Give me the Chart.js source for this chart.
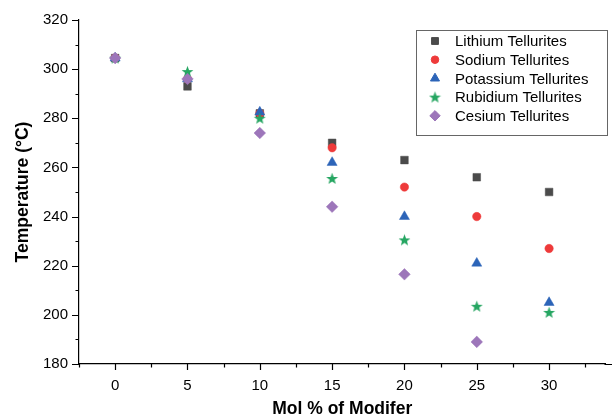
<!DOCTYPE html>
<html>
<head>
<meta charset="utf-8">
<script src="https://cdn.jsdelivr.net/npm/chart.js@4/dist/chart.umd.min.js"></script>
<style>
  html, body { margin: 0; padding: 0; background: #fff; }
  canvas { display: block; }
</style>
</head>
<body>
<canvas id="chart" width="612" height="418"></canvas>
<script>
const xValues = [0, 5, 10, 15, 20, 25, 30];
const lithium = [304.5, 293, 282, 270, 263, 256, 250];
const sodium = [304.5, 296, 282, 268, 252, 240, 227];
const potassium = [304.5, 296, 282.5, 262, 240, 221, 205];
const rubidium = [304.5, 299, 280, 255.5, 230.5, 203.5, 201];
const cesium = [304.5, 296, 274, 244, 216.5, 189, null];

const xMajor = [0, 5, 10, 15, 20, 25, 30];
const xMinor = [-2.5, 2.5, 7.5, 12.5, 17.5, 22.5, 27.5, 32.5];
const yMajor = [180, 200, 220, 240, 260, 280, 300, 320];
const yMinor = [190, 210, 230, 250, 270, 290, 310];

const FONT = "'Liberation Sans', Arial, sans-serif";

// filled star marker (Chart.js 'star' is outline only)
const makeStar = (color) => {
  const c = document.createElement("canvas");
  c.width = 13;
  c.height = 13;
  const ctx = c.getContext("2d");
  ctx.fillStyle = color;
  ctx.beginPath();
  for (let i = 0; i < 10; i++) {
    const r = i % 2 === 0 ? 6.2 : 2.6;
    const a = -Math.PI / 2 + (i * Math.PI) / 5;
    const px = 6.5 + r * Math.cos(a);
    const py = 7 + r * Math.sin(a);
    if (i === 0) ctx.moveTo(px, py);
    else ctx.lineTo(px, py);
  }
  ctx.closePath();
  ctx.fill();
  return c;
};

const toPoints = (arr) =>
  xValues.map((x, i) => ({ x: x, y: arr[i] })).filter((p) => p.y !== null);

const series = [
  { label: "Lithium Tellurites", values: lithium, color: "#4b4b4b", style: "rect", radius: 5.4, order: 5 },
  { label: "Sodium Tellurites", values: sodium, color: "#ee3a3a", style: "circle", radius: 4.2, order: 4 },
  { label: "Potassium Tellurites", values: potassium, color: "#2c64b8", style: "triangle", radius: 5.8, order: 3 },
  { label: "Rubidium Tellurites", values: rubidium, color: "#26a662", style: "star", radius: 6, order: 2 },
  { label: "Cesium Tellurites", values: cesium, color: "#9d76ba", style: "rectRot", radius: 5.8, order: 1 },
];

const datasets = series.map((s) => ({
  label: s.label,
  data: toPoints(s.values),
  order: s.order,
  pointStyle: s.style === "star" ? makeStar(s.color) : s.style,
  pointRadius: s.radius,
  pointHoverRadius: s.radius,
  backgroundColor: s.color,
  borderColor: s.color,
  pointBorderWidth: 0.5,
  showLine: false,
}));

// minor + major tick marks drawn outward, x axis line runs to the edge
const axisTicks = {
  id: "axisTicks",
  afterDraw(chart) {
    const ctx = chart.ctx;
    const x = chart.scales.x;
    const y = chart.scales.y;
    ctx.save();
    ctx.strokeStyle = "#000";
    ctx.lineWidth = 1.2;
    ctx.beginPath();
    ctx.moveTo(x.right - 1, x.top + 0.5);
    ctx.lineTo(chart.width, x.top + 0.5);
    xMajor.forEach((v) => {
      const px = Math.round(x.getPixelForValue(v)) + 0.5;
      ctx.moveTo(px, x.top);
      ctx.lineTo(px, x.top + 6);
    });
    xMinor.forEach((v) => {
      const px = Math.round(x.getPixelForValue(v)) + 0.5;
      ctx.moveTo(px, x.top);
      ctx.lineTo(px, x.top + 3.5);
    });
    yMajor.forEach((v) => {
      const py = Math.round(y.getPixelForValue(v)) + 0.5;
      ctx.moveTo(y.right, py);
      ctx.lineTo(y.right - 7, py);
    });
    yMinor.forEach((v) => {
      const py = Math.round(y.getPixelForValue(v)) + 0.5;
      ctx.moveTo(y.right, py);
      ctx.lineTo(y.right - 3.5, py);
    });
    ctx.stroke();
    ctx.restore();
  },
};

// boxed legend in the upper right corner
const boxLegend = {
  id: "boxLegend",
  afterDraw(chart) {
    const ctx = chart.ctx;
    ctx.save();
    ctx.strokeStyle = "#666";
    ctx.lineWidth = 1;
    ctx.strokeRect(416.5, 30.5, 191, 105);
    ctx.font = "15px " + FONT;
    ctx.textBaseline = "middle";
    chart.data.datasets.forEach((ds, i) => {
      const cy = 41 + i * 18.7;
      ctx.fillStyle = ds.backgroundColor;
      ctx.strokeStyle = ds.borderColor;
      Chart.helpers.drawPoint(
        ctx,
        { pointStyle: ds.pointStyle, radius: ds.pointRadius * 0.9, rotation: 0, borderWidth: 0.5 },
        435,
        cy
      );
      ctx.fillStyle = "#000";
      ctx.fillText(ds.label, 455, cy + 1);
    });
    ctx.restore();
  },
};

new Chart(document.getElementById("chart"), {
  type: "scatter",
  data: { datasets: datasets },
  plugins: [axisTicks, boxLegend],
  options: {
    responsive: false,
    animation: false,
    layout: { padding: { left: 13, top: 20, right: 0, bottom: -2 } },
    plugins: {
      legend: { display: false },
      tooltip: { enabled: false },
    },
    scales: {
      x: {
        type: "linear",
        min: -2.5,
        max: 33.9,
        afterBuildTicks: (s) => {
          s.ticks = xMajor.map((v) => ({ value: v }));
        },
        afterFit: (s) => {
          s.height = 56;
        },
        grid: { display: false },
        border: { display: true, color: "#000", width: 1.2 },
        ticks: {
          padding: 5,
          color: "#000",
          font: { family: FONT, size: 15 },
        },
        title: {
          display: true,
          text: "Mol % of Modifer",
          color: "#000",
          padding: 0,
          font: { family: FONT, size: 17.5, weight: "bold" },
        },
      },
      y: {
        type: "linear",
        min: 180,
        max: 320,
        afterBuildTicks: (s) => {
          s.ticks = yMajor.map((v) => ({ value: v }));
        },
        afterFit: (s) => {
          s.width = 66;
        },
        grid: { display: false },
        border: { display: true, color: "#000", width: 1.2 },
        ticks: {
          padding: 3,
          color: "#000",
          font: { family: FONT, size: 15 },
        },
        title: {
          display: true,
          text: "Temperature (°C)",
          color: "#000",
          padding: 0,
          font: { family: FONT, size: 17.5, weight: "bold" },
        },
      },
    },
  },
});
</script>
</body>
</html>
